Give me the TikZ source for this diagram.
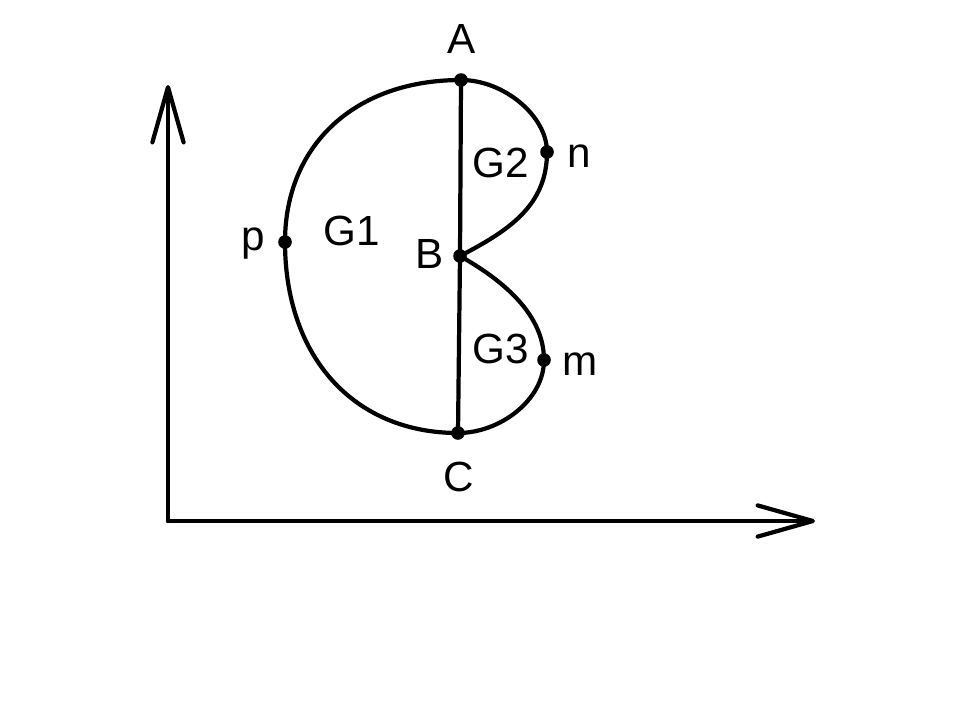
\documentclass[tikz,border=0pt]{standalone}
\usepackage{fontspec}
\setmainfont{Liberation Sans}
\usetikzlibrary{arrows.meta}
\tikzset{
  curve/.style={line width=3pt, line cap=round, line join=round},
  axisline/.style={line width=3pt, line cap=round,
    -{Straight Barb[length=1.38cm, width=0.78cm, round]}},
  lbl/.style={anchor=base, inner sep=0pt, font=\fontsize{30}{36}\selectfont}
}
\begin{document}
\begin{tikzpicture}[x=0.025cm, y=-0.025cm]
  \useasboundingbox (0,0) rectangle (968,700);
  % points of the curve
  \coordinate (A) at (461,80);
  \coordinate (B) at (460,256);
  \coordinate (C) at (458,433);
  \coordinate (p) at (285,242);
  \coordinate (n) at (547,152);
  \coordinate (m) at (544,360);
  % axes
  \coordinate (O) at (168,521);
  \coordinate (ytip) at (168,85);
  \coordinate (xtip) at (815,521);
  \draw[axisline] (O) -- (ytip);
  \draw[axisline] (O) -- (xtip);
  % G1 boundary
  \draw[curve] (A) .. controls (355,80) and (285,145) .. (p)
               .. controls (285,357) and (354,433) .. (C);
  \draw[curve] (A) -- (B) -- (C);
  % G2 and G3
  \draw[curve] (A) .. controls (504,80) and (547,116) .. (n)
               .. controls (547,205) and (510,230) .. (B);
  \draw[curve] (B) .. controls (495,276) and (544,310) .. (m)
               .. controls (544,400) and (500,433) .. (C);
  \foreach \pt in {A,B,C,p,n,m}
    \fill (\pt) circle[radius=0.17cm];
  % labels
  \node[lbl] (lblA) at (462,53) {A};
  \node[lbl] (lblB) at (430,268) {B};
  \node[lbl] (lblC) at (459,491) {C};
  \node[lbl] (lblp) at (253,250) {p};
  \node[lbl] (lbln) at (579,167) {n};
  \node[lbl] (lblm) at (580,375) {m};
  \node[lbl] (lblG1) at (352,245) {G1};
  \node[lbl] (lblG2) at (501,177) {G2};
  \node[lbl] (lblG3) at (501,363) {G3};
\end{tikzpicture}
\end{document}
